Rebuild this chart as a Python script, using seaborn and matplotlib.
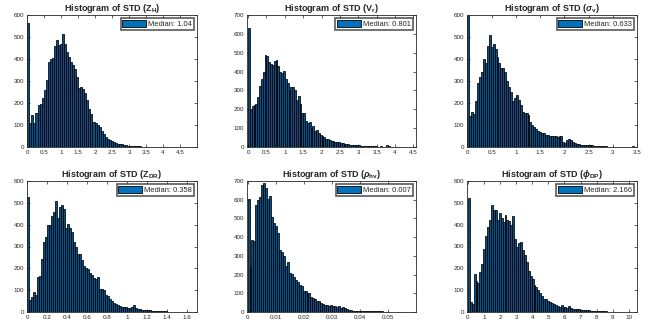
import numpy as np
import pandas as pd
import matplotlib
matplotlib.use("Agg")
import matplotlib.pyplot as plt
import seaborn as sns

# ---------------- data (bin counts) ----------------
zh_width = 0.06
zh_counts = [565,110,145,110,155,190,195,225,260,305,385,400,405,460,485,465,470,515,
             470,430,410,385,375,355,320,270,275,265,245,215,175,150,115,110,100,90,75,
             60,45,35,30,28,25,20,15,15,12,10,8,6,5,5,4,4,3,3,2,2,2,2,1,1,1,1,1,1,1,1,
             0,1,0,1,0,0,1,0,0,0,0,1,0,0,0]
zh_median = "Median: 1.04"

vr_width = 0.05
vr_counts = [633,200,215,225,230,265,325,360,400,490,480,450,440,435,455,460,430,400,
             395,405,360,340,300,320,320,300,250,270,230,180,180,140,125,135,100,110,85,
             90,75,62,58,52,45,40,36,33,30,28,26,24,22,20,18,16,14,13,12,11,10,9,8,7,6,
             5,5,4,4,3,3,3,2,2,3,2,2,12,3,1,1,1,0,1,0,1,0,1,0,0,0,1,0,1]
vr_median = "Median: 0.801"

sv_width = 0.04
sv_counts = [595,140,160,150,210,290,320,340,400,380,460,510,455,470,445,410,380,360,
             360,340,300,275,250,210,225,235,215,190,160,155,155,145,115,100,90,80,75,
             70,65,62,55,55,50,48,52,50,45,48,50,25,20,30,38,30,22,18,15,12,10,10,8,8,
             10,9,7,6,5,5,4,3,3,3,2,2,2,1,1,1,1,1,1,0,1,0,1,4,1,0]
sv_median = "Median: 0.633"

zdr_width = 0.02
zdr_counts = [528,55,70,90,80,160,165,245,320,345,400,400,440,460,510,430,480,490,470,
              385,405,385,365,320,300,265,265,240,210,200,195,180,170,155,150,160,105,
              105,100,80,75,60,50,40,35,30,28,25,25,25,20,18,25,30,20,15,12,10,10,8,8,
              7,6,5,5,4,4,3,3,3,2,2,2,2,1,1,1,1,0,1,0,1,0,0,1]
zdr_median = "Median: 0.358"

rho_width = 0.0007
rho_counts = [605,240,385,380,570,600,615,680,690,665,605,620,510,475,460,420,330,320,
              300,245,265,210,205,185,170,160,145,140,110,110,100,100,80,75,70,60,60,50,
              45,40,35,30,35,30,30,25,30,20,25,20,15,12,10,8,8,6,6,5,4,5,6,8,6,5,4,4,3,
              3,3,2,2,2,1,1,1,1,1,0,1,0,1,0,0,1,0,0]
rho_median = "Median: 0.007"

phi_width = 0.12
phi_counts = [520,45,35,175,140,135,185,220,290,350,390,420,490,465,465,420,455,430,410,
              445,420,415,400,440,335,300,315,320,285,260,230,190,165,150,125,115,100,85,
              75,60,58,50,45,40,38,30,28,25,30,25,22,20,28,20,15,14,12,12,10,10,9,8,7,6,
              6,5,5,4,4,3,3,3,2,2,2,2,1,1,1,1,1,1,0,1,0,1,0]
phi_median = "Median: 2.166"

titles = [r"Histogram of STD ($\mathbf{Z_H}$)", r"Histogram of STD ($\mathbf{V_r}$)",
          r"Histogram of STD ($\sigma_\mathbf{v}$)", r"Histogram of STD ($\mathbf{Z_{DR}}$)",
          r"Histogram of STD ($\rho_\mathbf{hv}$)", r"Histogram of STD ($\phi_\mathbf{DP}$)"]

panels = [
    (zh_counts, zh_width, zh_median, (-0.01, 5.0), np.arange(0, 4.51, 0.5), ["0", "0.5", "1", "1.5", "2", "2.5", "3", "3.5", "4", "4.5"], 600),
    (vr_counts, vr_width, vr_median, (-0.03, 4.57), np.arange(0, 4.51, 0.5), ["0", "0.5", "1", "1.5", "2", "2.5", "3", "3.5", "4", "4.5"], 700),
    (sv_counts, sv_width, sv_median, (-0.01, 3.5), np.arange(0, 3.51, 0.5), ["0", "0.5", "1", "1.5", "2", "2.5", "3", "3.5"], 600),
    (zdr_counts, zdr_width, zdr_median, (-0.005, 1.7), np.arange(0, 1.61, 0.2), ["0", "0.2", "0.4", "0.6", "0.8", "1", "1.2", "1.4", "1.6"], 600),
    (rho_counts, rho_width, rho_median, (-0.0002, 0.06), np.arange(0, 0.051, 0.01), ["0", "0.01", "0.02", "0.03", "0.04", "0.05"], 700),
    (phi_counts, phi_width, phi_median, (-0.05, 10.5), np.arange(0, 10.1, 1), [str(i) for i in range(11)], 600),
]

# ---------------- style ----------------
sns.set_style("ticks")
plt.rcParams["font.family"] = ["Liberation Sans", "DejaVu Sans"]
plt.rcParams["mathtext.fontset"] = "custom"
plt.rcParams["mathtext.rm"] = "Liberation Sans:bold"
plt.rcParams["mathtext.bf"] = "Liberation Sans:bold"
plt.rcParams["mathtext.it"] = "Liberation Sans:italic:bold"

fig = plt.figure(figsize=(6.51, 3.26), dpi=100)
xs = [(27, 197), (247, 416), (467, 637)]
ys = [(15, 147), (181, 312)]
W, H = 651.0, 326.0

axcol = "#262626"
for i, (counts, width, med, xlim, xt, xtl, ymax) in enumerate(panels):
    r, c = divmod(i, 3)
    x0, x1 = xs[c]
    y0, y1 = ys[r]
    ax = fig.add_axes([x0 / W, 1 - y1 / H, (x1 - x0) / W, (y1 - y0) / H])
    n = len(counts)
    centers = (np.arange(n) + 0.5) * width
    df = pd.DataFrame({"x": centers, "w": np.asarray(counts, dtype=float)})
    sns.histplot(data=df, x="x", weights="w", bins=n, binrange=(0, n * width), ax=ax,
                 color="#0a5088", edgecolor="black", linewidth=0.55, alpha=1.0,
                 label=med)
    ax.set_xlim(*xlim)
    ax.set_ylim(0, ymax)
    ax.set_xticks(xt)
    ax.set_xticklabels(xtl)
    ax.set_yticks(np.arange(0, ymax + 1, 100))
    ax.set_xlabel("")
    ax.set_ylabel("")
    ax.tick_params(direction="in", length=2, width=0.5, labelsize=4.5,
                   colors=axcol, top=True, right=True, pad=2)
    for s in ax.spines.values():
        s.set_visible(True)
        s.set_linewidth(0.6)
        s.set_color(axcol)
    ax.set_title(titles[i], fontsize=6.5, fontweight="bold", pad=3)
    leg = ax.legend(loc="upper right", fontsize=5.4, frameon=True, fancybox=False,
                    handlelength=3.2, handleheight=1.0, borderpad=0.25,
                    handletextpad=0.2, borderaxespad=0.45)
    leg.get_frame().set_edgecolor("#303030")
    leg.get_frame().set_linewidth(1.2)
    for p in leg.get_patches():
        p.set_facecolor("#0072BD")
        p.set_edgecolor("black")
        p.set_linewidth(0.6)

fig.savefig("out.png", dpi=100)
